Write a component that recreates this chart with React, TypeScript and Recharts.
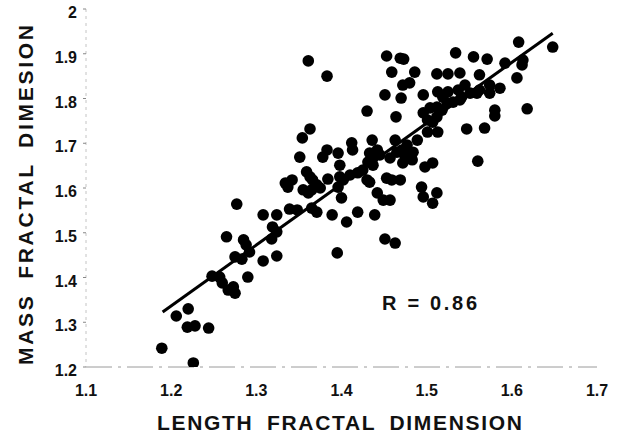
import React from 'react'
import {
  ScatterChart,
  Scatter,
  XAxis,
  YAxis,
  ReferenceLine,
  Label,
} from 'recharts'

// length fractal dimension (x) and mass fractal dimension (y)
const lengthDim = [
  1.189, 1.226, 1.206, 1.22, 1.219, 1.228, 1.244, 1.248, 1.257, 1.26,
  1.267, 1.273, 1.275, 1.29, 1.275, 1.283, 1.308, 1.324, 1.292, 1.265,
  1.285, 1.288, 1.319, 1.324, 1.318, 1.277, 1.395, 1.308, 1.324, 1.339,
  1.348, 1.365, 1.371, 1.389, 1.406, 1.419, 1.439, 1.355, 1.361, 1.365,
  1.4, 1.442, 1.449, 1.457, 1.334, 1.342, 1.337, 1.359, 1.363, 1.366,
  1.371, 1.375, 1.384, 1.398, 1.402, 1.41, 1.419, 1.425, 1.43, 1.433,
  1.398, 1.351, 1.383, 1.378, 1.396, 1.363, 1.354, 1.412, 1.413, 1.436,
  1.433, 1.437, 1.431, 1.437, 1.442, 1.445, 1.457, 1.465, 1.471, 1.474,
  1.484, 1.483, 1.472, 1.463, 1.477, 1.489, 1.498, 1.507, 1.56, 1.453,
  1.459, 1.469, 1.494, 1.496, 1.512, 1.507, 1.451, 1.463, 1.361, 1.383,
  1.43, 1.464, 1.451, 1.47, 1.472, 1.48, 1.453, 1.469, 1.473, 1.459,
  1.486, 1.512, 1.525, 1.539, 1.562, 1.496, 1.513, 1.525, 1.545, 1.551,
  1.539, 1.531, 1.574, 1.574, 1.586, 1.559, 1.496, 1.504, 1.512, 1.518,
  1.512, 1.507, 1.501, 1.524, 1.58, 1.58, 1.547, 1.568, 1.501, 1.513,
  1.608, 1.648, 1.534, 1.555, 1.571, 1.592, 1.613, 1.612, 1.606, 1.618,
  1.541, 1.562, 1.537, 1.519, 1.396,
]
const massDim = [
  1.242, 1.209, 1.314, 1.33, 1.289, 1.292, 1.287, 1.403, 1.401, 1.388,
  1.372, 1.379, 1.365, 1.401, 1.446, 1.441, 1.437, 1.448, 1.457, 1.491,
  1.484, 1.473, 1.513, 1.502, 1.486, 1.564, 1.455, 1.54, 1.54, 1.553,
  1.551, 1.555, 1.546, 1.54, 1.524, 1.546, 1.54, 1.596, 1.589, 1.596,
  1.578, 1.589, 1.573, 1.573, 1.611, 1.618, 1.602, 1.636, 1.625, 1.618,
  1.607, 1.6, 1.62, 1.625, 1.618, 1.629, 1.634, 1.64, 1.618, 1.613,
  1.651, 1.669, 1.685, 1.669, 1.678, 1.732, 1.712, 1.701, 1.685, 1.707,
  1.678, 1.667, 1.658, 1.651, 1.685, 1.674, 1.667, 1.68, 1.685, 1.674,
  1.68, 1.663, 1.656, 1.707, 1.696, 1.707, 1.647, 1.656, 1.66, 1.622,
  1.618, 1.618, 1.602, 1.58, 1.589, 1.566, 1.486, 1.477, 1.884, 1.85,
  1.772, 1.759, 1.808, 1.801, 1.83, 1.835, 1.895, 1.89, 1.888, 1.859,
  1.859, 1.855, 1.855, 1.857, 1.853, 1.808, 1.815, 1.815, 1.83, 1.812,
  1.797, 1.792, 1.83, 1.812, 1.823, 1.812, 1.768, 1.779, 1.781, 1.774,
  1.759, 1.747, 1.752, 1.79, 1.774, 1.761, 1.732, 1.734, 1.725, 1.725,
  1.926, 1.915, 1.902, 1.893, 1.888, 1.879, 1.886, 1.875, 1.846, 1.777,
  1.803, 1.819, 1.819, 1.803, 1.602,
]

// regression line end points
const fitLine = [
  { x: 1.19, y: 1.323 },
  { x: 1.648, y: 1.946 },
]
const correlation = 'R = 0.86'

const xTicks = [1.1, 1.2, 1.3, 1.4, 1.5, 1.6, 1.7]
const yTicks = [1.2, 1.3, 1.4, 1.5, 1.6, 1.7, 1.8, 1.9, 2]

const points = lengthDim.map((x, i) => ({ x, y: massDim[i] }))

const font = '"Liberation Sans", Arial, Helvetica, sans-serif'

const fmt = (v: number) => String(Number(v.toFixed(1)))

const XTick = ({ x, y, payload }: any) => (
  <text
    x={x}
    y={y + 29}
    textAnchor="middle"
    fontFamily={font}
    fontWeight="bold"
    fontSize={16}
    fill="#111"
  >
    {fmt(payload.value)}
  </text>
)

const YTick = ({ x, y, payload }: any) => (
  <text
    x={x - 6}
    y={y + 9}
    textAnchor="end"
    fontFamily={font}
    fontWeight="bold"
    fontSize={16}
    fill="#111"
  >
    {fmt(payload.value)}
  </text>
)

export default function App() {
  return (
    <div
      style={{
        position: 'absolute',
        left: 0,
        top: 0,
        width: 619,
        height: 436,
        background: '#fff',
      }}
    >
      <ScatterChart
        width={619}
        height={436}
        margin={{ top: 9, right: 22, bottom: 0, left: 0 }}
      >
        <XAxis
          type="number"
          dataKey="x"
          domain={[1.1, 1.7]}
          ticks={xTicks}
          allowDataOverflow
          height={69}
          tickSize={0}
          tickMargin={0}
          tick={<XTick />}
          axisLine={{ stroke: '#9a9a9a', strokeDasharray: '26 6 3 6' }}
        >
          <Label
            content={() => (
              <text
                x={339.5}
                y={430}
                textAnchor="middle"
                fontFamily={font}
                fontWeight="bold"
                fontSize={21}
                wordSpacing={6}
                textLength={365}
                lengthAdjust="spacing"
                fill="#111"
              >
                LENGTH FRACTAL DIMENSION
              </text>
            )}
          />
        </XAxis>
        <YAxis
          type="number"
          dataKey="y"
          domain={[1.2, 2]}
          ticks={yTicks}
          allowDataOverflow
          width={86}
          tickSize={3}
          tickMargin={0}
          tick={<YTick />}
          tickLine={{ stroke: '#888' }}
          axisLine={{ stroke: '#c4c4c4', strokeDasharray: '3 4' }}
        >
          <Label
            content={() => (
              <text
                transform="translate(33 195) rotate(-90)"
                textAnchor="middle"
                fontFamily={font}
                fontWeight="bold"
                fontSize={21}
                wordSpacing={6}
                textLength={340}
                lengthAdjust="spacing"
                fill="#111"
              >
                MASS FRACTAL DIMESION
              </text>
            )}
          />
        </YAxis>
        <ReferenceLine
          segment={fitLine}
          stroke="#000"
          strokeWidth={3}
          ifOverflow="visible"
        />
        <Scatter
          data={points}
          fill="#000"
          shape={(p: any) => <circle cx={p.cx} cy={p.cy} r={5.8} fill="#000" />}
          isAnimationActive={false}
        />
      </ScatterChart>
      <svg
        width={619}
        height={436}
        style={{ position: 'absolute', left: 0, top: 0, pointerEvents: 'none' }}
      >
        <text
          x={382}
          y={310}
          fontFamily={font}
          fontWeight="bold"
          fontSize={20}
          textLength={95}
          lengthAdjust="spacing"
          fill="#111"
        >
          {correlation}
        </text>
      </svg>
    </div>
  )
}
